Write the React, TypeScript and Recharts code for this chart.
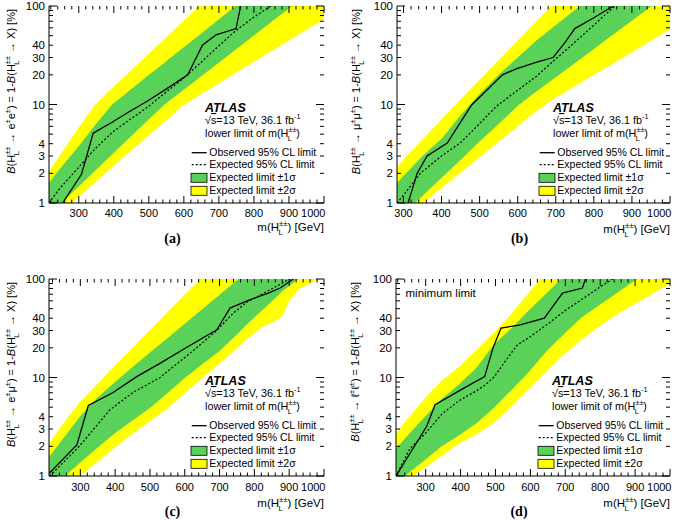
import React from 'react';
import { ComposedChart, Area, Line, XAxis, YAxis } from 'recharts';

const FONT = '"Liberation Sans", Arial, Helvetica, sans-serif';
const SERIF = '"Liberation Serif", "Times New Roman", serif';
const GREEN = '#5ad25a';
const YELLOW = '#ffff00';

// (a) e±e±
const massA = [215, 245, 295, 345, 395, 445, 495, 545, 595, 645, 695, 745, 795, 845, 895, 945, 1000];
const yLoA = [0.63, 0.78, 1.11, 1.6, 2.3, 3.3, 4.7, 6.7, 9.6, 12.5, 16, 20.6, 26.5, 34, 43.7, 56, 73];
const gLoA = [0.76, 0.96, 1.42, 2.1, 3.1, 4.6, 6.8, 10, 13.7, 18.8, 25.8, 35.4, 48.6, 66.7, 91.6, 126, 178];
const gHiA = [1.6, 2.2, 3.6, 6.1, 10, 13.9, 19.3, 26.7, 37, 51, 71, 98, 136, 188, 260, 360, 510];
const yHiA = [2.1, 3.0, 5.5, 9.9, 14.6, 21.5, 31.6, 46.5, 68.5, 101, 148, 218, 320, 470, 690, 1000, 1500];
const obsMassA = [254, 308, 341, 395, 445, 495, 545, 611, 653, 692, 749, 762];
const obsA = [1, 1.97, 5.1, 6.6, 8.5, 10.8, 14, 20, 40, 51, 59, 100];
const expMassA = [215, 245, 295, 345, 395, 445, 495, 545, 595, 645, 695, 745, 795, 845, 870];
const expA = [1, 1.4, 2.2, 3.5, 5.2, 7.0, 9.3, 13, 18, 26, 38, 55, 75, 98, 115];

// (b) μ±μ±
const massB = [283, 300, 350, 400, 450, 500, 550, 600, 650, 700, 750, 800, 850, 900, 950, 1000];
const yLoB = [0.61, 0.69, 0.99, 1.42, 2.03, 2.92, 4.2, 6.0, 8.65, 11.7, 15.3, 20, 26, 34, 44.4, 58];
const gLoB = [0.67, 0.78, 1.18, 1.8, 2.74, 4.2, 6.35, 9.7, 13.6, 18.9, 26.3, 36.6, 51, 71, 99, 137];
const gHiB = [1.6, 1.88, 3.0, 4.5, 7.8, 12.8, 20, 30, 45, 64, 91, 130, 185, 265, 375, 535];
const yHiB = [2.35, 2.76, 4.4, 7.1, 11.3, 17.8, 28.2, 44.7, 70.7, 112, 177, 280, 440, 700, 1100, 1700];
const obsMassB = [312, 336, 362, 415, 479, 560, 596, 650, 693, 723, 750, 800, 851];
const obsB = [1, 2, 3, 4.06, 9.9, 20, 23, 27, 30, 42, 59, 76, 100];
const expMassB = [283, 300, 344, 400, 450, 500, 543, 600, 648, 700, 728, 800, 855, 900];
const expB = [1.0, 1.2, 2.0, 3.0, 4.1, 6.4, 9.5, 14, 19.2, 29, 36, 64, 100, 145];

// (c) e±μ±
const massC = [210, 250, 300, 350, 400, 450, 500, 550, 600, 650, 700, 750, 780, 820, 850, 880, 900, 930, 960, 1000];
const yLoC = [0.56, 0.72, 1.0, 1.4, 1.95, 2.69, 3.6, 4.83, 6.9, 9.9, 13.9, 19.7, 24.7, 32.2, 36, 41.6, 59.7, 80, 90, 105];
const gLoC = [0.72, 0.96, 1.37, 1.95, 2.73, 3.66, 4.9, 6.9, 9.9, 13.6, 18.6, 27.4, 35, 47.2, 59, 75, 85, 103, 126, 162];
const gHiC = [1.56, 2.38, 4.06, 6.3, 9.0, 12.8, 17.9, 25.1, 35.2, 49.4, 69.3, 97.3, 119, 156, 192, 235, 270, 330, 400, 530];
const yHiC = [2.13, 3.4, 5.7, 8.7, 13.3, 20, 30.3, 46, 69.5, 105, 160, 240, 310, 430, 540, 690, 810, 1000, 1300, 1800];
const obsMassC = [210, 290, 323, 393, 462, 530, 606, 692, 730, 788, 840, 874, 912];
const obsC = [1.06, 2.07, 5.2, 7.0, 10.2, 14, 20.3, 30.5, 50.7, 61.6, 72, 81, 100];
const expMassC = [212, 293, 385, 450, 529, 580, 634, 692, 739, 778, 840, 902, 950];
const expC = [1.0, 1.93, 4.7, 7.0, 10, 14, 20, 30, 45, 58, 76, 100, 125];

// (d) ℓ±ℓ± minimum limit
const massD = [215, 245, 295, 345, 395, 445, 495, 545, 595, 645, 695, 745, 795, 845, 895, 945, 1000];
const yLoD = [0.75, 0.89, 1.19, 1.59, 2.12, 2.65, 3.44, 5.05, 7.55, 11.3, 17, 24, 32.5, 43.2, 54.7, 69.2, 90];
const gLoD = [0.85, 1.03, 1.43, 1.99, 2.57, 3.41, 4.9, 7.4, 11.3, 18.3, 27.4, 40.2, 53.4, 71, 94.4, 126, 172];
const gHiD = [1.9, 2.5, 3.9, 6.0, 8.5, 12.5, 21.5, 31.5, 48, 71, 106, 165, 260, 410, 640, 1000, 1600];
const yHiD = [2.7, 3.7, 6.0, 9.2, 12.8, 19, 28.5, 44, 72, 118, 190, 300, 480, 760, 1200, 1900, 3000];
const obsMassD = [215, 303, 327, 407, 469, 493, 516, 568, 640, 692, 749, 758];
const obsD = [1, 3.2, 5.3, 7.7, 10.2, 20, 31.8, 34, 40, 72, 81, 100];
const expMassD = [215, 255, 295, 345, 395, 445, 471, 497, 530, 563, 600, 650, 700, 750, 800, 835, 870];
const expD = [1.0, 1.9, 2.6, 4.2, 5.8, 7.3, 8.4, 10.2, 15, 21.5, 26, 35, 48, 63, 83, 100, 120];

const xLabels = [300, 400, 500, 600, 700, 800, 900, 1000];
const yLabels = [1, 2, 3, 4, 10, 20, 30, 40, 100];
const yTicks = [1, 2, 3, 4, 5, 6, 7, 8, 9, 10, 20, 30, 40, 50, 60, 70, 80, 90, 100];
const legendNames = ['Observed 95% CL limit', 'Expected 95% CL limit', 'Expected limit \u00b11\u03c3', 'Expected limit \u00b12\u03c3'];

const bandRows = (m: number[], lo2: number[], lo1: number[], hi1: number[], hi2: number[]) =>
  m.map((x, i) => ({ m: x, yellow: [lo2[i], hi2[i]], green: [lo1[i], hi1[i]] }));
const lineRows = (m: number[], v: number[]) => m.map((x, i) => ({ m: x, v: v[i] }));

const minorTicks = (xMin: number) => {
  const t: number[] = [];
  for (let v = Math.ceil(xMin / 20) * 20; v <= 1000; v += 20) t.push(v);
  return t;
};

type Tok = string | { i: string } | { sup: string } | { ol: string } | { hl: true };
const HL: Tok = { hl: true };

function Rich({ toks, fs }: { toks: Tok[]; fs: number }) {
  const s = fs * 0.68;
  const out: React.ReactNode[] = [];
  let cur = 0;
  let pendDx = 0;
  let k = 0;
  const push = (text: string, target: number, extra: any = {}) => {
    out.push(
      <tspan key={k++} dy={target - cur} dx={pendDx} {...extra}>
        {text}
      </tspan>
    );
    cur = target;
    pendDx = 0;
  };
  toks.forEach((tk) => {
    if (typeof tk === 'string') push(tk, 0);
    else if ('i' in tk) push(tk.i, 0, { fontStyle: 'italic' });
    else if ('ol' in tk) push(tk.ol, 0, { textDecoration: 'overline' });
    else if ('sup' in tk) push(tk.sup, -0.42 * fs, { fontSize: s });
    else {
      push('H', 0);
      push('\u00b1\u00b1', -0.42 * fs, { fontSize: s });
      pendDx = -1.17 * s;
      push('L', 0.33 * fs, { fontSize: s });
      pendDx = 0.6 * s;
    }
  });
  if (cur !== 0) out.push(<tspan key={k++} dy={-cur} dx={pendDx}>{''}</tspan>);
  return <>{out}</>;
}

const XTick = (props: any) => {
  const { x, y, payload, ph, off } = props;
  const v = payload.value;
  const major = xLabels.includes(v);
  const len = major ? 7 : 3.5;
  const last = v === 1000;
  return (
    <g>
      <line x1={x} x2={x} y1={y} y2={y - len} stroke="#000" strokeWidth={1} />
      <line x1={x} x2={x} y1={y - ph} y2={y - ph + len} stroke="#000" strokeWidth={1} />
      {major && (
        <text x={last ? x + 1.5 : x} y={y + off} textAnchor={last ? 'end' : 'middle'} fontSize={11} fontFamily={FONT} fill="#000">
          {v}
        </text>
      )}
    </g>
  );
};

const YTick = (props: any) => {
  const { x, y, payload, pw } = props;
  const v = payload.value;
  const major = v === 1 || v === 10 || v === 100;
  const len = major ? 8 : 4;
  return (
    <g>
      <line x1={x} x2={x + len} y1={y} y2={y} stroke="#000" strokeWidth={1} />
      <line x1={x + pw} x2={x + pw - len} y1={y} y2={y} stroke="#000" strokeWidth={1} />
      {yLabels.includes(v) && (
        <text x={x - 4} y={y + 4} textAnchor="end" fontSize={11.5} fontFamily={FONT} fill="#000">
          {v}
        </text>
      )}
    </g>
  );
};

type PanelProps = {
  x: number; y: number; w: number; h: number;
  l: number; t: number; r: number; b: number;
  xMin: number;
  rows: any[]; obs: any[]; exp: any[];
  decay: Tok[];
  tag: string;
  labOff: number; titleOff: number; tagOff: number; yTitleDx: number;
  note?: string;
};

function Panel(p: PanelProps) {
  const { l, t, r, b, w, h } = p;
  const pw = r - l;
  const ph = b - t;
  const yAxisW = 40;
  const xAxisH = 30;
  const margin = { left: l - yAxisW, top: t, right: w - r, bottom: h - b - xAxisH };
  const xTicks = minorTicks(p.xMin);
  const lx = l + 156;
  const yTitle: Tok[] = [{ i: 'B' }, '(', HL, ' \u2192 ', ...p.decay, ') = 1-', { i: 'B' }, '(', HL, ' \u2192 X) [%]'];
  return (
    <div style={{ position: 'absolute', left: p.x, top: p.y, width: w, height: h }}>
      <ComposedChart width={w} height={h} data={p.rows} margin={margin}>
        <XAxis
          dataKey="m" type="number" domain={[p.xMin, 1000]} allowDataOverflow ticks={xTicks} interval={0}
          tickSize={0} tickMargin={0} tickLine={false} height={xAxisH} axisLine={{ stroke: '#000' }}
          tick={(tp: any) => <XTick {...tp} ph={ph} off={p.labOff} />}
        />
        <XAxis
          xAxisId="top" orientation="top" dataKey="m" type="number" domain={[p.xMin, 1000]} allowDataOverflow
          height={0} tick={false} tickLine={false} axisLine={{ stroke: '#000' }}
        />
        <YAxis
          type="number" scale="log" domain={[1, 100]} allowDataOverflow ticks={yTicks} interval={0}
          tickSize={0} tickMargin={0} tickLine={false} width={yAxisW} axisLine={{ stroke: '#000' }}
          tick={(tp: any) => <YTick {...tp} pw={pw} />}
        />
        <YAxis
          yAxisId="right" orientation="right" type="number" scale="log" domain={[1, 100]} allowDataOverflow
          width={0} tick={false} tickLine={false} axisLine={{ stroke: '#000' }}
        />
        <Area dataKey="yellow" type="linear" stroke="none" fill={YELLOW} fillOpacity={1} isAnimationActive={false} />
        <Area dataKey="green" type="linear" stroke="none" fill={GREEN} fillOpacity={1} isAnimationActive={false} />
        <Line data={p.exp} dataKey="v" type="linear" stroke="#000" strokeWidth={1.2} strokeDasharray="2 2" dot={false} isAnimationActive={false} />
        <Line data={p.obs} dataKey="v" type="linear" stroke="#000" strokeWidth={1.3} dot={false} isAnimationActive={false} />
      </ComposedChart>
      <svg width={w} height={h} style={{ position: 'absolute', left: 0, top: 0, pointerEvents: 'none' }} fontFamily={FONT} fill="#000">
        <text transform={`translate(${l - p.yTitleDx + 4},${t + 3}) rotate(-90)`} textAnchor="end" fontSize={11} style={{ whiteSpace: 'pre' }}>
          <Rich toks={yTitle} fs={11} />
        </text>
        <text x={r} y={b + p.titleOff} textAnchor="end" fontSize={11.5} style={{ whiteSpace: 'pre' }}>
          <Rich toks={['m(', HL, ') [GeV]']} fs={11.5} />
        </text>
        <text x={(l + r) / 2 - 14} y={b + p.tagOff} textAnchor="middle" fontFamily={SERIF} fontWeight="bold" fontSize={14}>
          {p.tag}
        </text>
        {p.note && (
          <text x={l + 9.5} y={t + 18} fontSize={11.5}>{p.note}</text>
        )}
        <text x={lx} y={t + 105.5} fontWeight="bold" fontStyle="italic" fontSize={12.5}>ATLAS</text>
        <text x={lx} y={t + 118} fontSize={10.8} style={{ whiteSpace: 'pre' }}>
          <Rich toks={['\u221a', { ol: 's' }, '=13 TeV, 36.1 fb', { sup: '-1' }]} fs={10.8} />
        </text>
        <text x={lx} y={t + 131} fontSize={10.8} style={{ whiteSpace: 'pre' }}>
          <Rich toks={['lower limit of m(', HL, ')']} fs={10.8} />
        </text>
        <line x1={l + 142.7} x2={l + 157.7} y1={t + 146.7} y2={t + 146.7} stroke="#000" strokeWidth={1.3} />
        <text x={l + 160.3} y={t + 150.4} fontSize={10.5}>{legendNames[0]}</text>
        <line x1={l + 142.7} x2={l + 157.7} y1={t + 158.7} y2={t + 158.7} stroke="#000" strokeWidth={1.2} strokeDasharray="2 2" />
        <text x={l + 160.3} y={t + 162.4} fontSize={10.5}>{legendNames[1]}</text>
        <rect x={l + 142} y={t + 167.3} width={16} height={9} fill={GREEN} stroke="#000" strokeWidth={0.8} />
        <text x={l + 160.3} y={t + 175.4} fontSize={10.5}>{legendNames[2]}</text>
        <rect x={l + 142} y={t + 180.3} width={16} height={9} fill={YELLOW} stroke="#000" strokeWidth={0.8} />
        <text x={l + 160.3} y={t + 188.4} fontSize={10.5}>{legendNames[3]}</text>
      </svg>
    </div>
  );
}

export default function App() {
  return (
    <div style={{ position: 'absolute', left: 0, top: 0, width: 685, height: 520, background: '#fff', overflow: 'hidden' }}>
      <Panel
        x={0} y={0} w={345} h={260} l={49} t={6} r={324} b={203} xMin={215}
        rows={bandRows(massA, yLoA, gLoA, gHiA, yHiA)} obs={lineRows(obsMassA, obsA)} exp={lineRows(expMassA, expA)}
        decay={['e', { sup: '\u00b1' }, 'e', { sup: '\u00b1' }]} tag="(a)"
        labOff={13.5} titleOff={28} tagOff={40} yTitleDx={38}
      />
      <Panel
        x={345} y={0} w={340} h={260} l={52} t={6} r={325} b={203} xMin={283}
        rows={bandRows(massB, yLoB, gLoB, gHiB, yHiB)} obs={lineRows(obsMassB, obsB)} exp={lineRows(expMassB, expB)}
        decay={['\u03bc', { sup: '\u00b1' }, '\u03bc', { sup: '\u00b1' }]} tag="(b)"
        labOff={13.5} titleOff={30} tagOff={40} yTitleDx={41}
      />
      <Panel
        x={0} y={260} w={345} h={260} l={49} t={19} r={324} b={216} xMin={210}
        rows={bandRows(massC, yLoC, gLoC, gHiC, yHiC)} obs={lineRows(obsMassC, obsC)} exp={lineRows(expMassC, expC)}
        decay={['e', { sup: '\u00b1' }, '\u03bc', { sup: '\u00b1' }]} tag="(c)"
        labOff={15} titleOff={31} tagOff={40} yTitleDx={38}
      />
      <Panel
        x={345} y={260} w={340} h={260} l={51} t={19} r={325} b={216} xMin={215}
        rows={bandRows(massD, yLoD, gLoD, gHiD, yHiD)} obs={lineRows(obsMassD, obsD)} exp={lineRows(expMassD, expD)}
        decay={['\u2113', { sup: '\u00b1' }, '\u2113', { sup: '\u00b1' }]} tag="(d)"
        labOff={15} titleOff={31} tagOff={40} yTitleDx={41} note="minimum limit"
      />
    </div>
  );
}
